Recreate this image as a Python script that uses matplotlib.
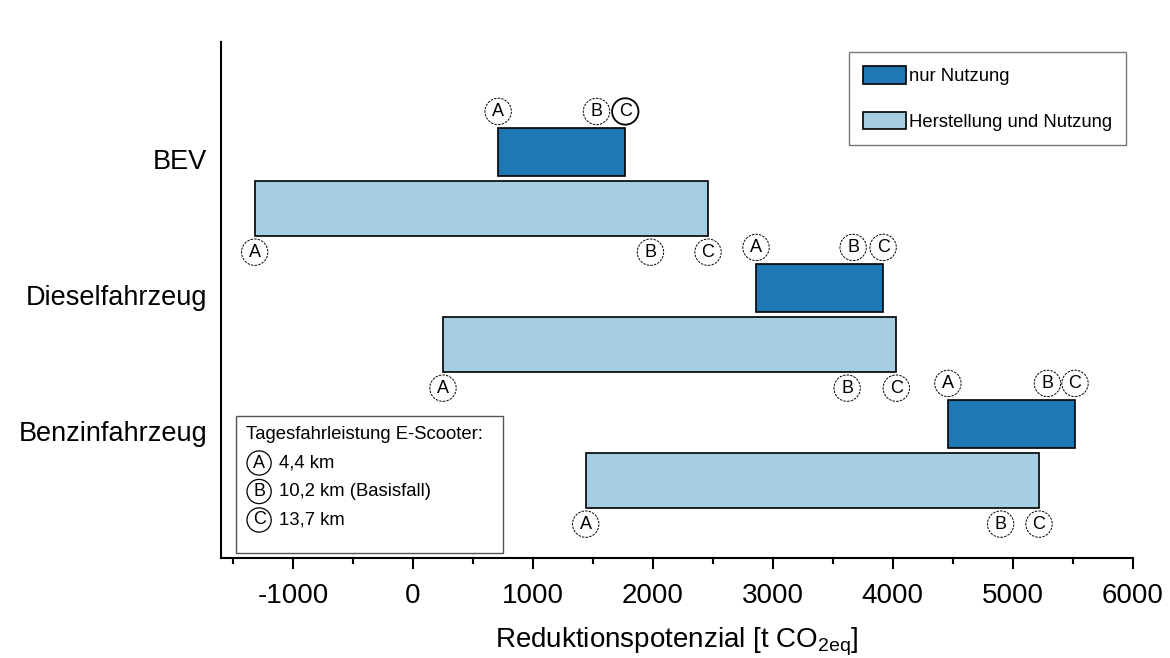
import numpy as np
import matplotlib.pyplot as plt
from matplotlib.patches import Patch, Rectangle

plt.rcParams['font.family'] = ['Liberation Sans', 'DejaVu Sans']
plt.rcParams['mathtext.fontset'] = 'custom'
plt.rcParams['mathtext.rm'] = 'Liberation Sans'
plt.rcParams['axes.unicode_minus'] = False

# data (t CO2eq)
categories = ['BEV', 'Dieselfahrzeug', 'Benzinfahrzeug']
nur_A = [710, 2860, 4460]
nur_B = [1530, 3670, 5290]
nur_C = [1770, 3920, 5520]
hn_A = [-1320, 250, 1440]
hn_B = [1980, 3620, 4900]
hn_C = [2460, 4030, 5220]
scenario_labels = ['4,4 km', '10,2 km (Basisfall)', '13,7 km']

dark = '#1f78b4'
light = '#a6cee3'

fig = plt.figure(figsize=(11.7, 6.58), dpi=100)
ax = fig.add_axes([0.189, 0.152, 0.779, 0.784])

# category centres: BEV at top
centres = [2, 1, 0]

circ = dict(boxstyle='circle,pad=0.26', fc='white', ec='black', lw=0.7, ls=(0, (2.5, 1.2)))
circ_solid = dict(boxstyle='circle,pad=0.26', fc='white', ec='black', lw=1.3)

def circ_label(x, y, s, style=circ):
    ax.text(x, y, s, ha='center', va='center', fontsize=13, bbox=style, zorder=5)

for i, c in enumerate(centres):
    ax.barh(c + 0.19, nur_C[i] - nur_A[i], left=nur_A[i], height=0.35,
            color=dark, edgecolor='black', lw=1.2, zorder=3)
    ax.barh(c - 0.225, hn_C[i] - hn_A[i], left=hn_A[i], height=0.405,
            color=light, edgecolor='black', lw=1.2, zorder=3)
    for x, s in zip([nur_A[i], nur_B[i], nur_C[i]], 'ABC'):
        style = circ_solid if (i == 0 and s == 'C') else circ
        circ_label(x, c + 0.49, s, style)
    for x, s in zip([hn_A[i], hn_B[i], hn_C[i]], 'ABC'):
        circ_label(x, c - 0.545, s)

ax.set_xlim(-1600, 6000)
ax.set_ylim(-0.794, 3.0)

ax.set_yticks([c + 0.14 for c in centres])
ax.set_yticklabels(categories, fontsize=19.5)
ax.tick_params(axis='y', length=0, pad=10)

ax.set_xticks(np.arange(-1000, 6001, 1000))
ax.set_xticks(np.arange(-1500, 6001, 500), minor=True)
ax.tick_params(axis='x', which='major', length=8, width=1.5, labelsize=20, pad=10)
ax.tick_params(axis='x', which='minor', length=4, width=1.5)
ax.set_xlabel(r'Reduktionspotenzial [t CO$_{\mathrm{2eq}}$]', fontsize=20, labelpad=12)

for s in ['top', 'right']:
    ax.spines[s].set_visible(False)
ax.spines['left'].set_linewidth(1.5)
ax.spines['bottom'].set_linewidth(1.5)

handles = [Patch(facecolor=dark, edgecolor='black', lw=1.2, label='nur Nutzung'),
           Patch(facecolor=light, edgecolor='black', lw=1.2, label='Herstellung und Nutzung')]
leg = ax.legend(handles=handles, loc='upper right', bbox_to_anchor=(0.993, 0.981),
                fontsize=13.3, frameon=True, fancybox=False, handlelength=2.3,
                handleheight=1.1, labelspacing=1.45, handletextpad=0.2,
                borderpad=0.75, borderaxespad=0)
leg.get_frame().set_edgecolor('#555555')
leg.get_frame().set_linewidth(1.0)

# scenario box bottom-left
bx0, by0 = (236 - 221) / 912, (558 - 553) / 516
bw, bh = (503 - 236) / 912, (553 - 416) / 516
ax.add_patch(Rectangle((bx0, by0), bw, bh, transform=ax.transAxes, fill=True,
                       fc='white', ec='#555555', lw=1.0, zorder=4))
ax.text((246 - 221) / 912, (558 - 434) / 516, 'Tagesfahrleistung E-Scooter:',
        transform=ax.transAxes, fontsize=13.3, va='center', ha='left', zorder=6)
circ_box = dict(boxstyle='circle,pad=0.2', fc='white', ec='black', lw=0.9)
for k, (s, lab) in enumerate(zip('ABC', scenario_labels)):
    yy = (558 - (463 + 28.5 * k)) / 516
    ax.text((259 - 221) / 912, yy, s, transform=ax.transAxes, fontsize=13, ha='center',
            va='center', bbox=circ_box, zorder=6)
    ax.text((279 - 221) / 912, yy, lab, transform=ax.transAxes, fontsize=13.3, ha='left',
            va='center', zorder=6)

fig.savefig('out.png', dpi=100)
